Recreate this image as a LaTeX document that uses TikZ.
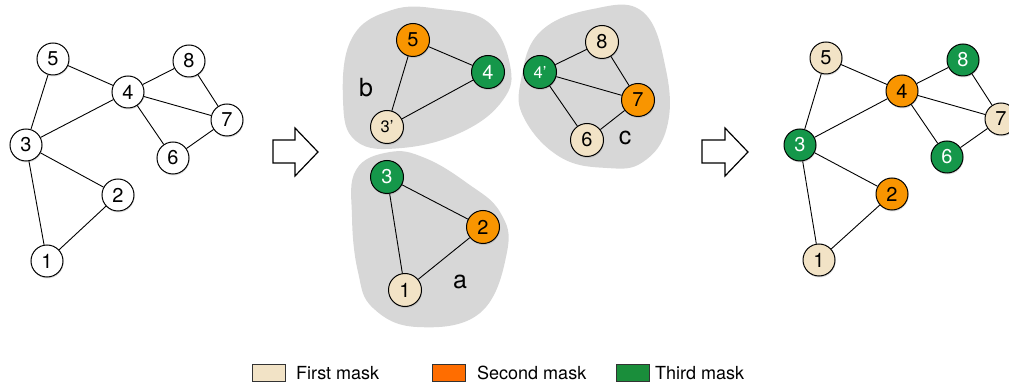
\documentclass[tikz,border=0pt]{standalone}
\usepackage{fontspec}
\setmainfont{TeX Gyre Heros}
\usetikzlibrary{shadows}
\definecolor{beige}{HTML}{F2E3C6}
\definecolor{orng}{HTML}{F99500}
\definecolor{grn}{HTML}{15974A}
\definecolor{blobgray}{HTML}{D7D7D7}
\definecolor{legorange}{HTML}{FF6D00}
\definecolor{leggreen}{HTML}{1A8E3B}
\begin{document}
\begin{tikzpicture}[x=1pt,y=-1pt,
  vtx/.style={circle,draw=black,line width=1pt,minimum size=32pt,inner sep=0pt,
    font=\fontsize{20}{22}\selectfont,fill=white,
    drop shadow={shadow xshift=0.6pt,shadow yshift=-1.5pt,opacity=0.25}},
  mvtx/.style={vtx,minimum size=33pt},
  vb/.style={fill=beige},
  vo/.style={fill=orng},
  vg/.style={fill=grn,text=white},
  primed/.style={font=\fontsize{16.5}{18}\selectfont},
  edge/.style={draw=black,line width=0.9pt},
  blob/.style={fill=blobgray,draw=none},
  bloblabel/.style={font=\fontsize{25}{27}\selectfont},
  blockarrow/.style={draw=black,fill=white,line width=1.2pt,line join=miter},
  legbox/.style={draw=black!80,line width=0.8pt,minimum width=33pt,minimum height=17pt,inner sep=0pt},
  legtext/.style={anchor=west,font=\fontsize{18}{20}\selectfont,inner sep=0pt}
]
\useasboundingbox (0,0) rectangle (1009,387);

% ---------- left graph ----------
\node[vtx] (l5) at (53,59) {5};
\node[vtx] (l4) at (128,92) {4};
\node[vtx] (l8) at (189,61) {8};
\node[vtx] (l7) at (227,120) {7};
\node[vtx] (l6) at (173,158) {6};
\node[vtx] (l3) at (26,145) {3};
\node[vtx] (l2) at (118,195) {2};
\node[vtx] (l1) at (47,261) {1};
\draw[edge] (l5) -- (l4);
\draw[edge] (l5) -- (l3);
\draw[edge] (l4) -- (l8);
\draw[edge] (l4) -- (l7);
\draw[edge] (l4) -- (l6);
\draw[edge] (l4) -- (l3);
\draw[edge] (l8) -- (l7);
\draw[edge] (l7) -- (l6);
\draw[edge] (l3) -- (l2);
\draw[edge] (l3) -- (l1);
\draw[edge] (l2) -- (l1);

% ---------- arrows ----------
\draw[blockarrow] (273,140) -- (295,140) -- (295,128) -- (318,152) -- (295,176) -- (295,163) -- (273,163) -- cycle;
\draw[blockarrow] (702,140) -- (725,140) -- (725,128) -- (748,152) -- (725,176) -- (725,163) -- (702,163) -- cycle;

% ---------- blobs ----------
\fill[blob] plot[smooth cycle,tension=0.7] coordinates {(392,10) (440,9) (488,22) (510,65) (503,100) (462,132) (402,148) (356,141) (343,100) (352,38)};
\fill[blob] plot[smooth cycle,tension=0.7] coordinates {(521,80) (540,32) (593,9) (643,12) (666,70) (667,127) (643,162) (607,168) (560,157) (524,118)};
\fill[blob] plot[smooth cycle,tension=0.7] coordinates {(390,152) (356,170) (352,217) (358,272) (373,308) (417,327) (480,313) (507,252) (500,212) (467,183) (425,158)};

\node[bloblabel] (lb) at (366,88) {b};
\node[bloblabel] (lc) at (625,138) {c};
\node[bloblabel] (la) at (460,282) {a};

% ---------- middle: b ----------
\node[mvtx,vo] (b5) at (413,40) {5};
\node[mvtx,vg] (b4) at (488,72) {4};
\node[mvtx,vb,primed] (b3) at (387,127) {3’};
\draw[edge] (b5) -- (b4);
\draw[edge] (b5) -- (b3);
\draw[edge] (b3) -- (b4);

% ---------- middle: c ----------
\node[mvtx,vb] (c8) at (602,42) {8};
\node[mvtx,vg,primed] (c4) at (540,72) {4’};
\node[mvtx,vo] (c7) at (638,100) {7};
\node[mvtx,vb] (c6) at (587,140) {6};
\draw[edge] (c4) -- (c8);
\draw[edge] (c4) -- (c7);
\draw[edge] (c4) -- (c6);
\draw[edge] (c8) -- (c7);
\draw[edge] (c7) -- (c6);

% ---------- middle: a ----------
\node[mvtx,vg] (a3) at (387,177) {3};
\node[mvtx,vo] (a2) at (483,227) {2};
\node[mvtx,vb] (a1) at (405,290) {1};
\draw[edge] (a3) -- (a2);
\draw[edge] (a3) -- (a1);
\draw[edge] (a1) -- (a2);

% ---------- right graph ----------
\node[vtx,vb] (r5) at (826,58) {5};
\node[vtx,vo] (r4) at (902,91) {4};
\node[vtx,vg] (r8) at (963,60) {8};
\node[vtx,vb] (r7) at (1001,119) {7};
\node[vtx,vg] (r6) at (947,157) {6};
\node[vtx,vg] (r3) at (800,145) {3};
\node[vtx,vo] (r2) at (892,194) {2};
\node[vtx,vb] (r1) at (819,260) {1};
\draw[edge] (r5) -- (r4);
\draw[edge] (r5) -- (r3);
\draw[edge] (r4) -- (r8);
\draw[edge] (r4) -- (r7);
\draw[edge] (r4) -- (r6);
\draw[edge] (r4) -- (r3);
\draw[edge] (r8) -- (r7);
\draw[edge] (r7) -- (r6);
\draw[edge] (r3) -- (r2);
\draw[edge] (r3) -- (r1);
\draw[edge] (r2) -- (r1);

% ---------- legend ----------
\node[legbox,fill=beige] (k1) at (268.5,372.5) {};
\node[legtext] (t1) at (296,373) {First mask};
\node[legbox,fill=legorange] (k2) at (448.5,372.5) {};
\node[legtext] (t2) at (477,373) {Second mask};
\node[legbox,fill=leggreen] (k3) at (633,372.5) {};
\node[legtext] (t3) at (655,373) {Third mask};
\end{tikzpicture}
\end{document}
